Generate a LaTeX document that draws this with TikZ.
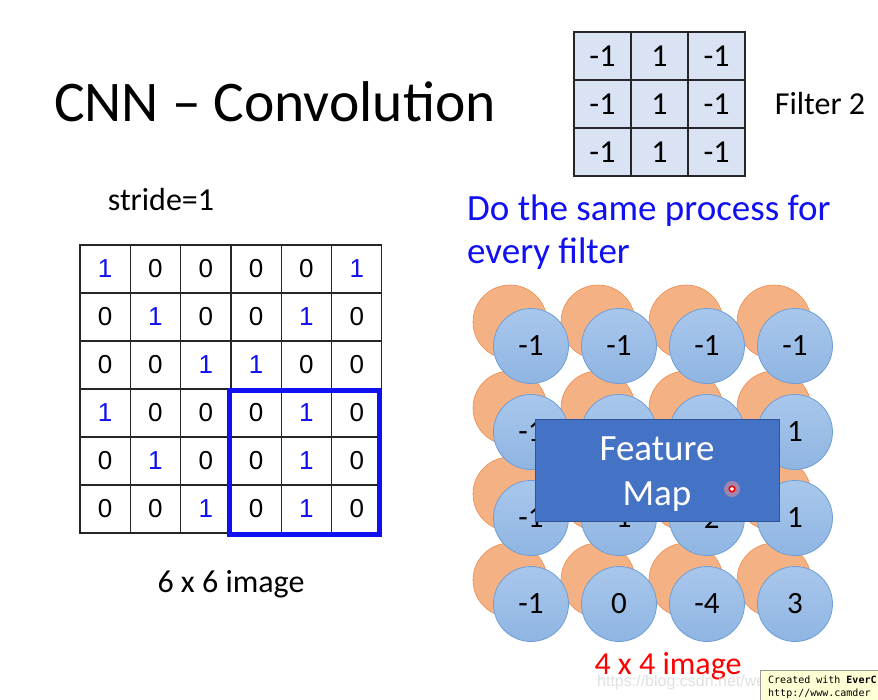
\documentclass[tikz,border=0pt]{standalone}
\usepackage{fontspec}
\setmainfont{Carlito}
\newfontfamily\gridfont{Liberation Sans}
\newfontfamily\tipfont{DejaVu Sans Mono}
\usepackage{tikz}
\definecolor{filterfill}{HTML}{DAE3F3}
\definecolor{orangefill}{HTML}{F4B183}
\definecolor{orangeline}{HTML}{EE8A4E}
\definecolor{bluetop}{HTML}{A9C7EC}
\definecolor{bluebot}{HTML}{8FB5E2}
\definecolor{blueline}{HTML}{6E9ED6}
\definecolor{mapfill}{HTML}{4472C4}
\definecolor{mapline}{HTML}{2F5597}
\definecolor{textblue}{HTML}{1010F0}
\definecolor{tipfill}{HTML}{FFFFD6}
\tikzset{
  cell/.style={draw=black!85, line width=1.1pt, minimum width=50.33pt, minimum height=48pt, inner sep=0pt, font=\gridfont\fontsize{26}{26}\selectfont},
  fcell/.style={draw=black!85, line width=1.1pt, fill=filterfill, minimum width=57pt, minimum height=48pt, inner sep=0pt, font=\fontsize{32}{32}\selectfont},
  orangedot/.style={circle, draw=orangeline, line width=0.6pt, fill=orangefill, minimum size=74pt, inner sep=0pt},
  bluedot/.style={circle, draw=blueline, line width=0.8pt, top color=bluetop, bottom color=bluebot, minimum size=75pt, inner sep=0pt, font=\fontsize{31}{31}\selectfont},
  label/.style={inner sep=0pt, font=\fontsize{32}{32}\selectfont},
  tiptext/.style={anchor=base west, inner sep=0pt, font=\tipfont\fontsize{10}{10}\selectfont}
}
\begin{document}
\begin{tikzpicture}[x=1pt, y=-1pt]
    \useasboundingbox (0,0) rectangle (878,699);
    \fill[white] (0,0) rectangle (878,699);
    % title
    \node[anchor=base west, inner sep=0pt, font=\fontsize{57.5}{57.5}\selectfont] (title) at (54,121) {CNN -- Convolution};
    % filter 2
    \foreach \row/\a/\b/\c in {1/-1/1/-1, 2/-1/1/-1, 3/-1/1/-1} {
        \node[fcell] (f-\row-1) at (602.5, 8+48*\row) {\a};
        \node[fcell] (f-\row-2) at (659.5, 8+48*\row) {\b};
        \node[fcell] (f-\row-3) at (716.5, 8+48*\row) {\c};
    }
    \node[label] (fname) at (820,104) {Filter 2};
    % image
    \node[label] (stride) at (161,200) {stride=1};
    \foreach \row/\list in {1/{1,0,0,0,0,1}, 2/{0,1,0,0,1,0}, 3/{0,0,1,1,0,0}, 4/{1,0,0,0,1,0}, 5/{0,1,0,0,1,0}, 6/{0,0,1,0,1,0}} {
        \foreach \v [count=\col] in \list {
            \ifnum\v=1
                \node[cell, text=textblue] (c-\row-\col) at (54.8+50.33*\col, 221+48*\row) {\v};
            \else
                \node[cell] (c-\row-\col) at (54.8+50.33*\col, 221+48*\row) {\v};
            \fi
        }
    }
    \draw[textblue, line width=5pt] (229.5,390.5) rectangle (379.5,534.5);
    \node[label] (imgname) at (231,584) {6 x 6 image};
    % feature map
    \node[anchor=base west, inner sep=0pt, align=left, text=textblue, font=\fontsize{37}{43}\selectfont] (same) at (467,263) {Do the same process for\\every filter};
    \foreach \row in {1,...,4} {
        \foreach \col in {1,...,4} {
            \node[orangedot] (o-\row-\col) at (510+88*\col-88, 322+86*\row-86) {};
        }
    }
    \foreach \row/\list in {1/{-1,-1,-1,-1}, 2/{-1,{},{},1}, 3/{-1,-1,-2,1}, 4/{-1,0,-4,3}} {
        \foreach \v [count=\col] in \list {
            \node[bluedot] (b-\row-\col) at (531+88*\col-88, 346+86*\row-86) {\v};
        }
    }
    \node[draw=mapline, line width=0.8pt, fill=mapfill, minimum width=244pt, minimum height=102pt] (fmap) at (657,470) {};
    \node[inner sep=0pt, align=center, text=white, font=\fontsize{37}{45}\selectfont] (fmaptext) at ([yshift=-4pt]fmap.center) {Feature\\Map};
    \fill[red!40, opacity=0.5] (732,489) circle (8);
    \draw[red, line width=1.6pt, fill=white] (732,489) circle (2.8);
    \node[label, text=red] (outname) at (668,666) {4 x 4 image};
    % screenshot leftovers
    \node[anchor=base west, inner sep=0pt, text=black!12, font=\gridfont\fontsize{16}{16}\selectfont] (mark) at (597,686) {https://blog.csdn.net/wei};
    \draw[black!40, fill=tipfill] (760.5,670.5) rectangle (890,710);
    \node[tiptext] (tip1) at (768,683) {Created with \textbf{EverC}};
    \node[tiptext] (tip2) at (768,696) {http://www.camder};
\end{tikzpicture}
\end{document}
